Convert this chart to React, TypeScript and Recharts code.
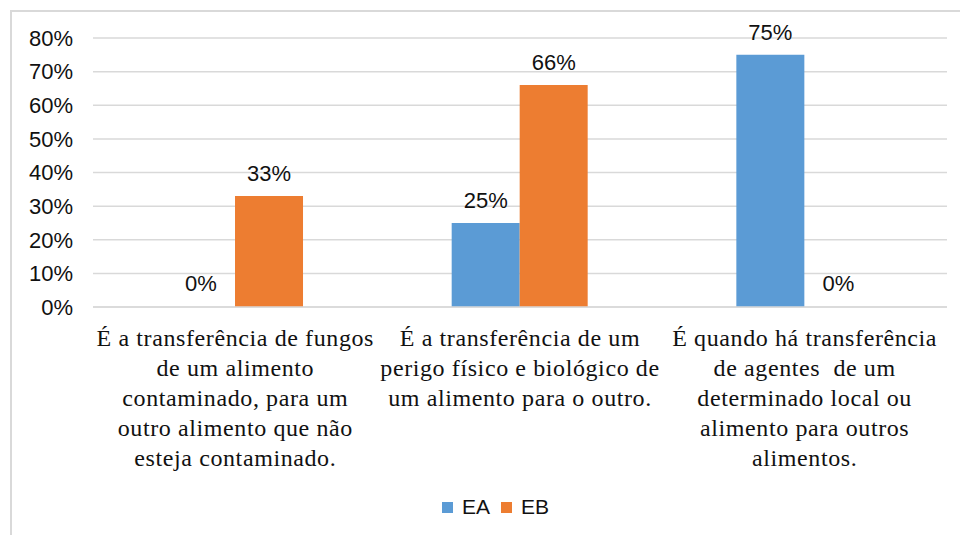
import React from "react";
import { BarChart, Bar, XAxis, YAxis, CartesianGrid, Legend, LabelList, Cell } from "recharts";

const categories = [
  "É a transferência de fungos\nde um alimento\ncontaminado, para um\noutro alimento que não\nesteja contaminado.",
  "É a transferência de um\nperigo físico e biológico de\num alimento para o outro.",
  "É quando há transferência\nde agentes  de um\ndeterminado local ou\nalimento para outros\nalimentos.",
];
const seriesEA = [0, 25, 75];
const seriesEB = [33, 66, 0];
const yTicks = [0, 10, 20, 30, 40, 50, 60, 70, 80];

const data = categories.map((c, i) => ({ cat: c, EA: seriesEA[i], EB: seriesEB[i] }));

const BLUE = "#5B9BD5";
const ORANGE = "#ED7D31";
const GRID = "#D9D9D9";
const SANS = "'Liberation Sans', Arial, sans-serif";

const CatTick = (props: any) => {
  const { x, y, payload } = props;
  const lines: string[] = String(payload.value).split("\n");
  return (
    <text
      x={x}
      y={y}
      textAnchor="middle"
      fontFamily="'Liberation Serif', 'Times New Roman', serif"
      fontSize={24}
      letterSpacing={0.6}
      fill="#111"
    >
      {lines.map((l, i) => (
        <tspan key={i} x={x} dy={i === 0 ? 33 : 30} style={{ whiteSpace: "pre" }}>
          {l}
        </tspan>
      ))}
    </text>
  );
};

const LegendContent = () => (
  <div
    style={{
      display: "flex",
      justifyContent: "center",
      alignItems: "center",
      paddingLeft: 44,
      fontFamily: SANS,
      fontSize: 21,
      color: "#111",
    }}
  >
    {[
      { name: "EA", color: BLUE },
      { name: "EB", color: ORANGE },
    ].map((it, i) => (
      <div key={it.name} style={{ display: "flex", alignItems: "center", marginLeft: i === 0 ? 0 : 11 }}>
        <div style={{ width: 11, height: 11, background: it.color, marginRight: 9 }} />
        <span>{it.name}</span>
      </div>
    ))}
  </div>
);

const labelStyle = { fontFamily: SANS, fontSize: 22, fill: "#111" };

export default function App() {
  return (
    <div style={{ position: "absolute", left: 0, top: 0, width: 960, height: 535, background: "#fff" }}>
      <div
        style={{
          position: "absolute",
          left: 10,
          top: 10,
          width: 950,
          height: 525,
          boxSizing: "border-box",
          borderTop: `2px solid ${GRID}`,
          borderLeft: `2px solid ${GRID}`,
        }}
      />
      <div style={{ position: "absolute", left: 0, top: 0 }}>
        <BarChart
          width={960}
          height={535}
          data={data}
          margin={{ top: 38, right: 13, bottom: 0, left: 0 }}
          barCategoryGap="26%"
          barGap={0}
        >
          <CartesianGrid vertical={false} stroke={GRID} strokeWidth={1.5} />
          <XAxis
            dataKey="cat"
            interval={0}
            tickLine={false}
            axisLine={{ stroke: GRID, strokeWidth: 1.5 }}
            height={188}
            tick={<CatTick />}
            tickMargin={0}
          />
          <YAxis
            width={93}
            domain={[0, 80]}
            ticks={yTicks}
            tickFormatter={(v: number) => `${v}%`}
            tickLine={false}
            axisLine={false}
            tickMargin={14}
            tick={{ fontFamily: SANS, fontSize: 22, fill: "#111" }}
          />
          <Legend verticalAlign="bottom" height={40} content={<LegendContent />} />
          <Bar dataKey="EA" fill={BLUE} isAnimationActive={false} minPointSize={1}>
            {seriesEA.map((v, i) => (
              <Cell key={i} fill={BLUE} fillOpacity={v === 0 ? 0 : 1} />
            ))}
            <LabelList dataKey="EA" position="top" offset={15} formatter={(v: number) => `${v}%`} style={labelStyle} />
          </Bar>
          <Bar dataKey="EB" fill={ORANGE} isAnimationActive={false} minPointSize={1}>
            {seriesEB.map((v, i) => (
              <Cell key={i} fill={ORANGE} fillOpacity={v === 0 ? 0 : 1} />
            ))}
            <LabelList dataKey="EB" position="top" offset={15} formatter={(v: number) => `${v}%`} style={labelStyle} />
          </Bar>
        </BarChart>
      </div>
    </div>
  );
}
